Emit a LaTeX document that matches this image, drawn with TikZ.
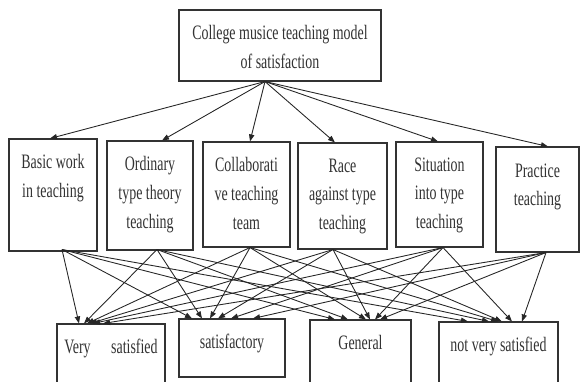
\documentclass[tikz,border=0pt]{standalone}
\usepackage{fontspec}
\newfontfamily\figfont[FakeStretch=0.68]{Liberation Serif}
\usetikzlibrary{arrows.meta,positioning,calc}

\begin{document}
\begin{tikzpicture}[
				x=0.03cm, y=-0.03cm,
				>={Triangle[length=6pt,width=4.5pt]},
				% Node styles
				box/.style={
					rectangle, draw=black!80, line width=0.9pt,
					inner sep=0pt, fill=white
				},
				txt/.style={
					inner sep=0pt, align=center, text=black!80,
					font=\figfont\fontsize{17.5}{24.5}\selectfont
				},
				arr/.style={->, line width=0.75pt, black!85}
				]
				
				\useasboundingbox (0,0) rectangle (580,381);
				
				%% ─── TOP: MODEL ───────────────────────────────────────────────────────────
				\node[box, minimum width=6.06cm, minimum height=2.13cm] (model) at (280,45.5) {};
				\node[txt, font=\figfont\fontsize{17.5}{25.5}\selectfont] (model-t) at ($(model.center)+(0,1.5)$)
				{College musice teaching model\\of satisfaction};
				\coordinate (apex) at ($(model.south)+(-15,0)$);
				
				%% ─── MIDDLE: TEACHING TYPES ───────────────────────────────────────────────
				\node[box, minimum width=2.64cm, minimum height=3.36cm] (basic)     at (53,195)    {};
				\node[box, minimum width=2.58cm, minimum height=3.27cm] (ordinary)  at (150,195.5) {};
				\node[box, minimum width=2.61cm, minimum height=3.15cm] (collab)    at (246.5,194.5) {};
				\node[box, minimum width=2.67cm, minimum height=3.18cm] (race)      at (342.5,196) {};
				\node[box, minimum width=2.61cm, minimum height=3.15cm] (situation) at (439.5,194.5) {};
				\node[box, minimum width=2.49cm, minimum height=3.15cm] (practice)  at (537.5,199.5) {};
				
				\node[txt, below=0.48cm of basic.north]     (basic-t)     {Basic work\\in teaching};
				\node[txt, below=0.48cm of ordinary.north]  (ordinary-t)  {Ordinary\\type theory\\teaching};
				\node[txt, below=0.48cm of collab.north]    (collab-t)    {Collaborati\\ve teaching\\team};
				\node[txt, below=0.48cm of race.north]      (race-t)      {Race\\against type\\teaching};
				\node[txt, below=0.48cm of situation.north] (situation-t) {Situation\\into type\\teaching};
				\node[txt, below=0.51cm of practice.north]  (practice-t)  {Practice\\teaching};
				
				\draw[arr] (apex) -- ($(basic.north)+(-3,0)$);
				\draw[arr] (apex) -- ($(ordinary.north)+(12,0)$);
				\draw[arr] (apex) -- ($(collab.north)+(3.5,0)$);
				\draw[arr] (apex) -- ($(race.north)+(-7.5,0)$);
				\draw[arr] (apex) -- ($(situation.north)+(-1.5,0)$);
				\draw[arr] (apex) -- ($(practice.north)+(10.5,0)$);
				
				%% ─── BOTTOM: SATISFACTION LEVELS ──────────────────────────────────────────
				\node[box, minimum width=3.24cm, minimum height=2.04cm] (very)    at (111,358)   {};
				\node[box, minimum width=3.18cm, minimum height=1.74cm] (satis)   at (232,348)   {};
				\node[box, minimum width=3.03cm, minimum height=2.16cm] (general) at (360.5,356) {};
				\node[box, minimum width=3.57cm, minimum height=2.10cm] (notvery) at (498.5,357) {};
				
				\node[txt, below=0.46cm of very.north]    (very-t)    {Very\quad satisfied};
				\node[txt, below=0.46cm of satis.north]   (satis-t)   {satisfactory};
				\node[txt, below=0.46cm of general.north] (general-t) {General};
				\node[txt, below=0.46cm of notvery.north] (notvery-t) {not very satisfied};
				
				% start points at the foot of each teaching box
				\coordinate (basic-o)     at ($(basic.south)+(9,-2)$);
				\coordinate (ordinary-o)  at ($(ordinary.south)+(7,-1)$);
				\coordinate (collab-o)    at ($(collab.south)+(3.5,0)$);
				\coordinate (race-o)      at ($(race.south)+(-9.5,0)$);
				\coordinate (situation-o) at ($(situation.south)+(3.5,0)$);
				\coordinate (practice-o)  at ($(practice.south)+(8.5,0)$);
				
				\foreach \src/\a/\b/\c/\d in {basic-o/-32/-40/-25.5/-30.5,
					ordinary-o/-27/-30/-12.5/-9.5,
					collab-o/-24/-22/5.5/-0.5,
					race-o/-21/-14/9.5/3.5,
					situation-o/-18/-1/14.5/13.5,
					practice-o/-8/21/19.5/23.5}{
					\draw[arr] (\src) -- ($(very.north)+(\a,0)$);
					\draw[arr] (\src) -- ($(satis.north)+(\b,0)$);
					\draw[arr] (\src) -- ($(general.north)+(\c,0)$);
					\draw[arr] (\src) -- ($(notvery.north)+(\d,0)$);
				}
				
			\end{tikzpicture}
\end{document}
